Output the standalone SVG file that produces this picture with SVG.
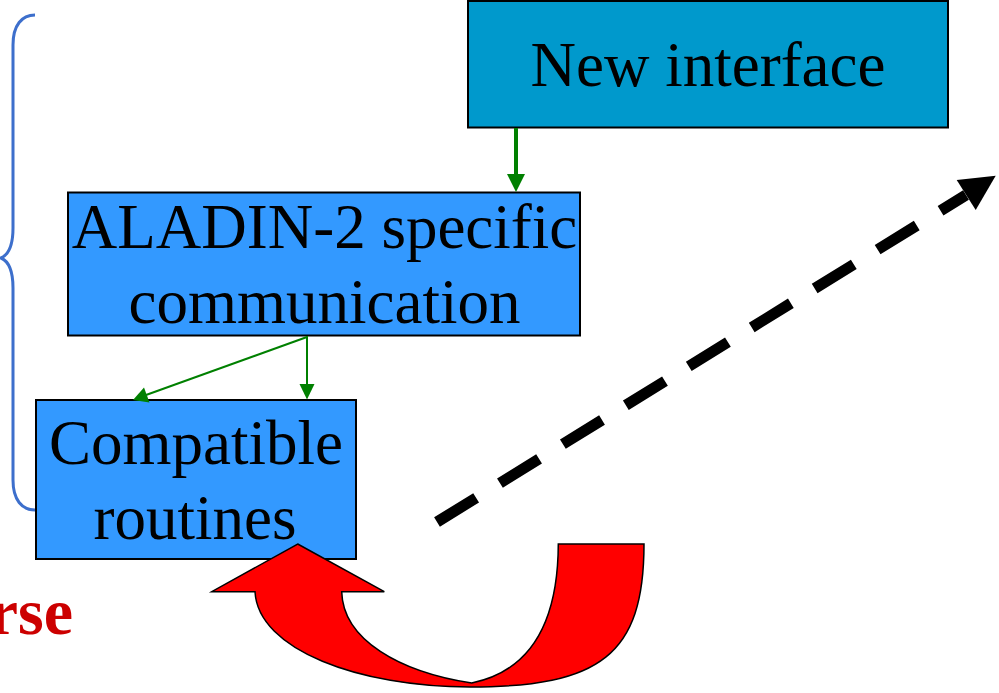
<svg xmlns="http://www.w3.org/2000/svg" width="999" height="693" viewBox="0 0 999 693">
<style>
.box{stroke:#000;stroke-width:2}
.lbl{font-family:"Liberation Serif","Times New Roman",serif;font-size:63px;fill:#000;text-anchor:middle}
.g{stroke:#008000;fill:none}
</style>
<defs>
<marker id="gh" markerWidth="10" markerHeight="10" refX="9" refY="5" orient="auto" markerUnits="userSpaceOnUse" viewBox="0 0 10 10">
<path d="M0,0 L10,5 L0,10 Z" fill="#008000"/>
</marker>
</defs>
<rect width="999" height="693" fill="#fff"/>
<path d="M35,15 C22,15 13,25 13,45 L13,228 C13,245 8,255 1,258 C8,261 13,271 13,288 L13,480 C13,500 22,510 35,510" fill="none" stroke="#3D6FCC" stroke-width="3"/>
<g id="new-interface">
<rect class="box" x="468" y="1" width="480" height="126.5" fill="#0099CC"/>
<text class="lbl" x="708" y="86">New interface</text>
</g>
<g id="aladin">
<rect class="box" x="68" y="192.5" width="512" height="143" fill="#3399FF"/>
<text class="lbl" x="324.5" y="247.5">ALADIN-2 specific</text>
<text class="lbl" x="324.5" y="323">communication</text>
</g>
<g id="compatible">
<rect class="box" x="36" y="400" width="320" height="159" fill="#3399FF"/>
<text class="lbl" x="196" y="463.5">Compatible</text>
<text class="lbl" x="195" y="539">routines</text>
</g>
<g id="connectors">
<line x1="516" y1="128" x2="516" y2="175" stroke="#008000" stroke-width="4"/>
<polygon points="507,174 525,174 516,192" fill="#008000"/>
<line x1="307" y1="336" x2="307" y2="385" stroke="#008000" stroke-width="2"/>
<polygon points="299.5,384 314.5,384 307,399.5" fill="#008000"/>
<line x1="307" y1="337" x2="146" y2="395" stroke="#008000" stroke-width="2"/>
<polygon points="133,400 144,387.5 149.5,402.5" fill="#008000"/>
<line x1="437" y1="522" x2="966" y2="195" stroke="#000" stroke-width="11" stroke-dasharray="46 28"/>
<polygon points="995.7,175.7 956.7,180 975.7,210" fill="#000"/>
<path d="M297.7,544 L384.3,591.7 L341.7,591.7 C343,640 400,672 471.7,683 C525,672 558,630 558.3,544 L644,544 C644,655 600,687 470,687 C360,687 258,650 255,591.7 L211.7,591.7 Z" fill="#FF0000" stroke="#000" stroke-width="1.5" stroke-linejoin="miter"/>
</g>
<text x="73" y="634" font-family="'Liberation Serif','Times New Roman',serif" font-size="66" font-weight="bold" fill="#CC0000" text-anchor="end">rse</text>
</svg>
